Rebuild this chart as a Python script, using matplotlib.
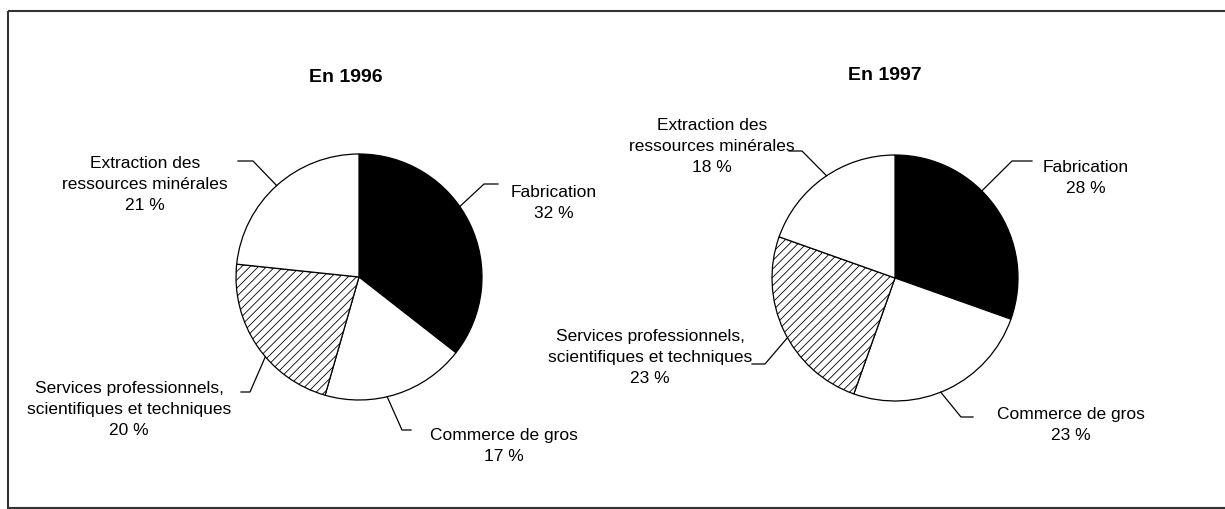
import matplotlib
matplotlib.use("Agg")
import matplotlib.pyplot as plt
import numpy as np
from matplotlib.patches import Rectangle

plt.rcParams["font.family"] = ["Liberation Sans", "DejaVu Sans"]
plt.rcParams["hatch.linewidth"] = 0.6

# ── Données ────────────────────────────────────────────────────────────────────
categories = ["Fabrication", "Commerce de gros",
              "Services professionnels,\nscientifiques et techniques",
              "Extraction des\nressources minérales"]
values_1996 = [32, 17, 20, 21]
values_1997 = [28, 23, 23, 18]
titles = ["En 1996", "En 1997"]

W, H = 1225, 510
FILLS = ["black", "white", "white", "white"]
HATCHES = [None, None, "////", None]

# mise en page (pixels, origine en haut à gauche)
PIES = [dict(center=(359, 278), radius=123, title=(346, 77)),
        dict(center=(895, 279), radius=123, title=(885, 75))]
# pour chaque étiquette : fraction le long du secteur, coude, fin du trait, centre du texte
LABELS = [
    [(0.43, (484, 185), (498, 185), (554, 203)),
     (0.57, (402, 431), (411, 431), (504, 446)),
     (0.42, (250, 393), (241, 393), (129, 410)),
     (0.50, (253, 162), (238, 162), (145, 185))],
    [(0.41, (1012, 162), (1032, 162), (1086, 178)),
     (0.54, (961, 418), (973, 418), (1071, 425)),
     (0.46, (765, 365), (752, 365), (650, 358)),
     (0.52, (802, 152), (789, 152), (712, 147))],
]

fig = plt.figure(figsize=(W / 100, H / 100), dpi=100)
ax = fig.add_axes([0, 0, 1, 1])

for vals, title, pie, labels in zip([values_1996, values_1997], titles, PIES, LABELS):
    cx, cy = pie["center"]
    r = pie["radius"]
    # axe y inversé : startangle=-90 + counterclock=True => départ en haut, sens horaire
    wedges, _ = ax.pie(vals, center=(cx, cy), radius=r, startangle=-90, counterclock=True,
                       colors=FILLS, frame=True,
                       wedgeprops=dict(edgecolor="black", linewidth=0.9))
    for w, h in zip(wedges, HATCHES):
        if h:
            w.set_hatch(h)

    ax.text(*pie["title"], title, ha="center", va="center", fontsize=14, fontweight="bold")

    for w, v, cat, (frac, elbow, end, txt) in zip(wedges, vals, categories, labels):
        ang = np.deg2rad(w.theta1 + frac * (w.theta2 - w.theta1))
        edge = (cx + r * np.cos(ang), cy + r * np.sin(ang))
        ax.plot([edge[0], elbow[0], end[0]], [edge[1], elbow[1], end[1]],
                color="black", linewidth=0.9)
        ax.text(*txt, f"{cat}\n{v} %", ha="center", va="center", fontsize=12.5,
                multialignment="center", linespacing=1.5)

ax.add_patch(Rectangle((8, 12), W, 497, fill=False, edgecolor="#333", linewidth=1.5,
                       clip_on=False))

ax.set_xlim(0, W)
ax.set_ylim(H, 0)
ax.set_aspect("equal")
ax.axis("off")

fig.savefig("out.png", dpi=100, facecolor="white")
